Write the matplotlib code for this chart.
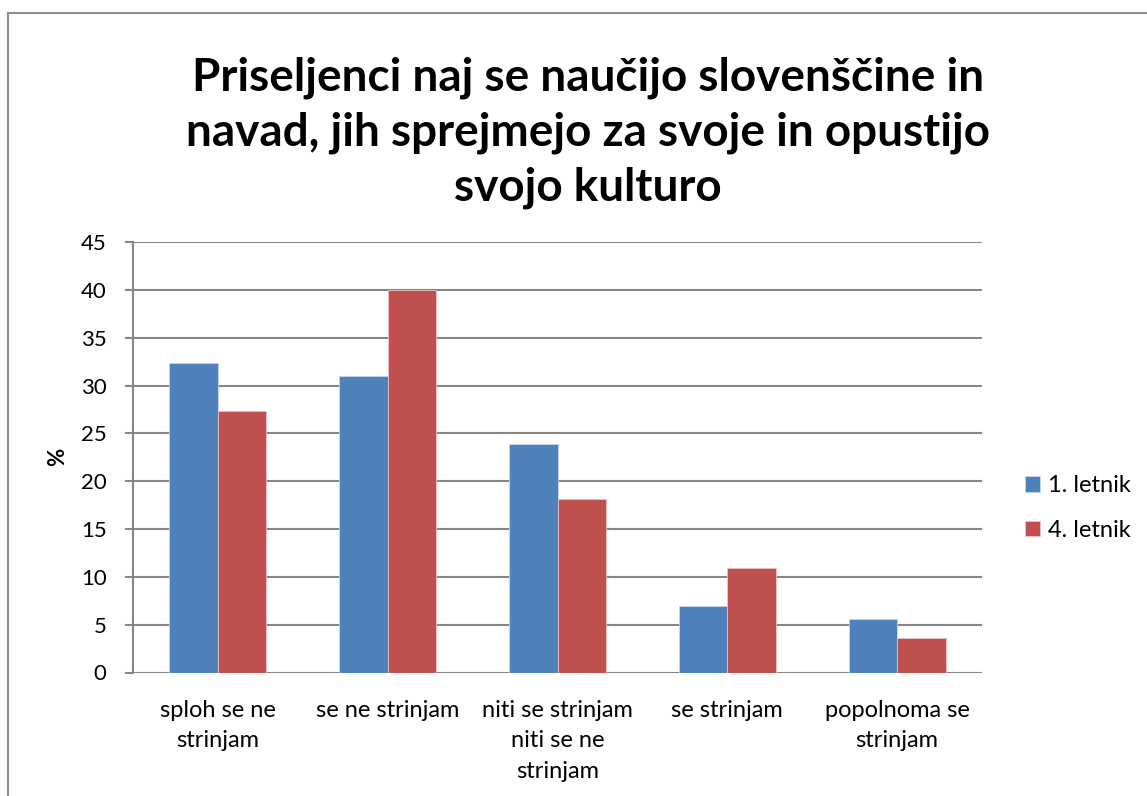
import matplotlib
matplotlib.use("Agg")
import matplotlib.pyplot as plt
from matplotlib.patches import Rectangle
import numpy as np

categories = ["sploh se ne\nstrinjam", "se ne strinjam", "niti se strinjam\nniti se ne\nstrinjam",
              "se strinjam", "popolnoma se\nstrinjam"]
series_names = ["1. letnik", "4. letnik"]
letnik1 = [32.4, 31.0, 23.9, 7.0, 5.6]
letnik4 = [27.3, 40.0, 18.1, 10.9, 3.6]
yticks = [0, 5, 10, 15, 20, 25, 30, 35, 40, 45]
title = "Priseljenci naj se naučijo slovenščine in\nnavad, jih sprejmejo za svoje in opustijo\nsvojo kulturo"

W, H = 1147, 796
plt.rcParams['font.family'] = ['Lato', 'DejaVu Sans']
fig = plt.figure(figsize=(W/100, H/100), dpi=100)

# chart border
fig.patches.append(Rectangle((8/W, 1 - 800/H), 1200/W, (800-13)/H, transform=fig.transFigure,
                             fill=False, edgecolor="#8c8c8c", linewidth=1.5, zorder=0))

ax = fig.add_axes([133/W, 1 - 672.5/H, 849/W, (672.5-242)/H])
x = np.arange(len(categories))
bw = 1/3.5
ax.bar(x - bw/2, letnik1, bw, color="#4F81BD", edgecolor="#c9d6e8", linewidth=0.6, label=series_names[0], zorder=3)
ax.bar(x + bw/2, letnik4, bw, color="#C0504D", edgecolor="#e8c4c3", linewidth=0.6, label=series_names[1], zorder=3)

ax.set_xlim(-0.5, len(categories) - 0.5)
ax.set_ylim(0, 45)
ax.set_yticks(yticks)
ax.set_yticklabels([str(t) for t in yticks], fontsize=16)
ax.set_xticks(x)
ax.set_xticklabels(categories, fontsize=17, linespacing=1.58, va="top")
ax.tick_params(axis="x", length=0, pad=19.5)
ax.tick_params(axis="y", length=6, width=1.5, color="#868686", pad=13)
ax.grid(axis="y", color="#868686", linewidth=1.5, zorder=0)
ax.set_axisbelow(True)
for s in ["top", "right"]:
    ax.spines[s].set_visible(False)
ax.spines["bottom"].set_visible(False)
ax.spines["left"].set_color("#868686")
ax.spines["left"].set_linewidth(1.5)
ax.set_ylabel("%", fontsize=16, fontweight="bold", labelpad=9)

fig.text(588/W, 1 - 133/H, title, ha="center", va="center", fontsize=33, fontweight="bold",
         linespacing=1.37)

leg = ax.legend(loc="center left", bbox_to_anchor=(1025/W, 1 - 508/H), bbox_transform=fig.transFigure,
                frameon=False, fontsize=17, borderpad=0, borderaxespad=0,
                handlelength=0.64, handleheight=0.64, handletextpad=0.35, labelspacing=1.0)

fig.savefig("out.png", dpi=100)
